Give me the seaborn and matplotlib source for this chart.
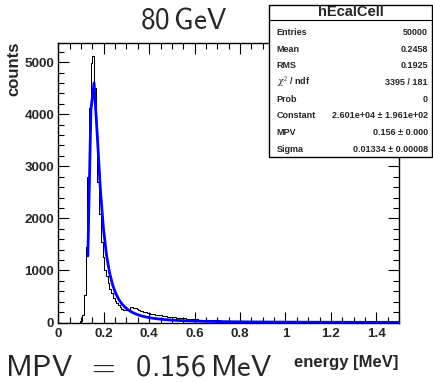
import numpy as np
import pandas as pd
import matplotlib
matplotlib.use("Agg")
import matplotlib.pyplot as plt
from matplotlib.ticker import MultipleLocator, FixedLocator, FixedFormatter
from matplotlib.patches import Rectangle
from matplotlib.lines import Line2D
import seaborn as sns

# ---------------- data ----------------
hist_range = (0.0, 1.5)
n_bins = 200
bin_counts = (
    [0] * 13
    + [30, 135, 520, 1450, 2800, 4120, 4980, 5120, 4500, 3540,
       2700, 2090, 1545, 1255, 1000, 900, 760, 640, 560, 480,
       420, 370, 330, 290, 265, 245, 240, 235, 245, 290,
       300, 285, 270, 255, 240, 225, 215, 205, 195, 185,
       175, 170, 165, 160, 150, 148, 140, 135, 130, 122,
       118, 115, 108, 104, 110, 98, 95, 92, 88, 85,
       80, 78, 74, 70, 68, 65, 62, 60]
    + [58, 55, 56, 52, 50, 48, 50, 46, 44, 42]
    + [42, 40, 38, 41, 37, 35, 34, 36, 32, 31]
    + [30, 29, 31, 28, 27, 26, 27, 25, 24, 25]
    + [23, 22, 23, 21, 20, 21, 19, 20, 18, 19]
    + [17, 18, 16, 17, 15, 16, 15, 14, 15, 13]
    + [13, 14, 12, 13, 12, 11, 12, 11, 10, 11]
    + [10, 11, 10, 9, 10, 9, 9, 8, 9, 8]
    + [8, 8, 7, 8, 7, 7, 7, 6, 7, 6]
    + [6, 6, 6, 5, 6, 5, 5, 5, 5, 4]
    + [5, 4, 4, 5, 4, 4, 4, 4, 3, 4]
    + [4, 3, 3, 4, 3, 3, 3, 3, 3, 3]
    + [3, 2, 3, 3, 2, 2, 3, 2, 2]
)

# Landau fit parameters (from the stats box)
fit_constant = 2.601e4
fit_mpv = 0.156
fit_sigma = 0.01334
fit_range = (0.13, 1.5)

x_ticks = [0, 0.2, 0.4, 0.6, 0.8, 1.0, 1.2, 1.4]
x_tick_labels = ["0", "0.2", "0.4", "0.6", "0.8", "1", "1.2", "1.4"]
y_ticks = [0, 1000, 2000, 3000, 4000, 5000]
y_tick_labels = ["0", "1000", "2000", "3000", "4000", "5000"]
y_max = 5376

stats_title = "hEcalCell"
stats_names = ["Entries", "Mean", "RMS", r"$\chi^{2}$ / ndf", "Prob",
               "Constant", "MPV", "Sigma"]
stats_values = ["50000", "0.2458", "0.1925", "3395 / 181", "0",
                "2.601e+04 \u00b1 1.961e+02", "0.156 \u00b1 0.000",
                "0.01334 \u00b1 0.00008"]

title_text = r"$\mathsf{80\,GeV}$"
mpv_text = r"$\mathsf{MPV\enspace=\enspace0.156\,MeV}$"
x_label = "energy [MeV]"
y_label = "counts"


def landau_density(lam):
    t = np.linspace(1e-9, 40.0, 40001)
    out = []
    for l in np.atleast_1d(lam):
        integrand = np.exp(-t * np.log(t) - l * t) * np.sin(np.pi * t)
        out.append(np.trapezoid(integrand, t) / np.pi)
    return np.array(out)


# ---------------- figure ----------------
sns.set_style("ticks")
plt.rcParams["font.family"] = ["Liberation Sans", "DejaVu Sans"]
plt.rcParams["mathtext.fontset"] = "custom"
plt.rcParams["mathtext.sf"] = "cmss10"
plt.rcParams["mathtext.rm"] = "cmss10"
plt.rcParams["mathtext.it"] = "DejaVu Serif:italic"

W, H = 433, 382
fig = plt.figure(figsize=(W / 100, H / 100), dpi=100)
fig.patch.set_facecolor("white")

ax_l, ax_r, ax_t, ax_b = 58.3, 399.0, 42.5, 322.5
ax = fig.add_axes([ax_l / W, 1 - ax_b / H, (ax_r - ax_l) / W, (ax_b - ax_t) / H])

bin_width = (hist_range[1] - hist_range[0]) / n_bins
centers = hist_range[0] + bin_width * (np.arange(n_bins) + 0.5)
df = pd.DataFrame({"energy": centers, "counts": np.asarray(bin_counts, float)})
sns.histplot(data=df, x="energy", weights="counts", binwidth=bin_width,
             binrange=hist_range, element="step", fill=False,
             color="black", linewidth=0.75, ax=ax)

fx = np.linspace(fit_range[0], fit_range[1], 101)
fy = fit_constant * landau_density((fx - fit_mpv) / fit_sigma)
sns.lineplot(x=fx, y=fy, color="#0000ff", linewidth=2.0, ax=ax, zorder=3)

ax.set_xlim(*hist_range)
ax.set_ylim(0, y_max)
ax.set_xlabel("")
ax.set_ylabel("")
for s in ax.spines.values():
    s.set_linewidth(1.0)
    s.set_color("black")

ax.xaxis.set_major_locator(FixedLocator(x_ticks))
ax.xaxis.set_major_formatter(FixedFormatter(x_tick_labels))
ax.yaxis.set_major_locator(FixedLocator(y_ticks))
ax.yaxis.set_major_formatter(FixedFormatter(y_tick_labels))
ax.xaxis.set_minor_locator(MultipleLocator(0.05))
ax.yaxis.set_minor_locator(MultipleLocator(200))
ax.tick_params(which="both", direction="in", top=True, right=True,
               width=0.8, color="black")
ax.tick_params(which="major", length=8)
ax.tick_params(which="minor", length=4)
ax.tick_params(axis="x", which="major", pad=4)
ax.tick_params(axis="y", which="major", pad=3)
for lab in ax.get_xticklabels() + ax.get_yticklabels():
    lab.set_fontsize(9.7)
    lab.set_fontweight("bold")

# axis titles
fig.text(13.5 / W, 1 - 42 / H, y_label, rotation=90, ha="center", va="top",
         fontsize=12, fontweight="bold")
fig.text(398 / W, 1 - 367 / H, x_label, ha="right", va="baseline",
         fontsize=12, fontweight="bold")

# big texts
fig.text(183.5 / W, 1 - 28.3 / H, title_text, ha="center", va="baseline",
         fontsize=21)
fig.text(5 / W, 1 - 375.5 / H, mpv_text, ha="left", va="baseline", fontsize=22)

# stats box
bx0, bx1, by0, by1 = 269, 432, 5, 157
fig.add_artist(Rectangle((bx0 / W, 1 - by1 / H), (bx1 - bx0) / W, (by1 - by0) / H,
                         transform=fig.transFigure, facecolor="white",
                         edgecolor="black", linewidth=1.0, zorder=5))
fig.add_artist(Line2D([bx0 / W, bx1 / W], [1 - 20 / H, 1 - 20 / H],
                      transform=fig.transFigure, color="black",
                      linewidth=0.8, zorder=6))
fig.text((bx0 + bx1) / 2 / W, 1 - 12.5 / H, stats_title, ha="center",
         va="center", fontsize=10.5, fontweight="bold", zorder=7)
row_y0, row_dy = 32.5, 16.65
for i, (nm, val) in enumerate(zip(stats_names, stats_values)):
    yy = 1 - (row_y0 + i * row_dy) / H
    fig.text(276.7 / W, yy, nm, ha="left", va="center", fontsize=6.5,
             fontweight="bold", zorder=7)
    fig.text(428 / W, yy, val, ha="right", va="center", fontsize=6.5,
             fontweight="bold", zorder=7)

fig.savefig("out.png", dpi=100, facecolor="white")
